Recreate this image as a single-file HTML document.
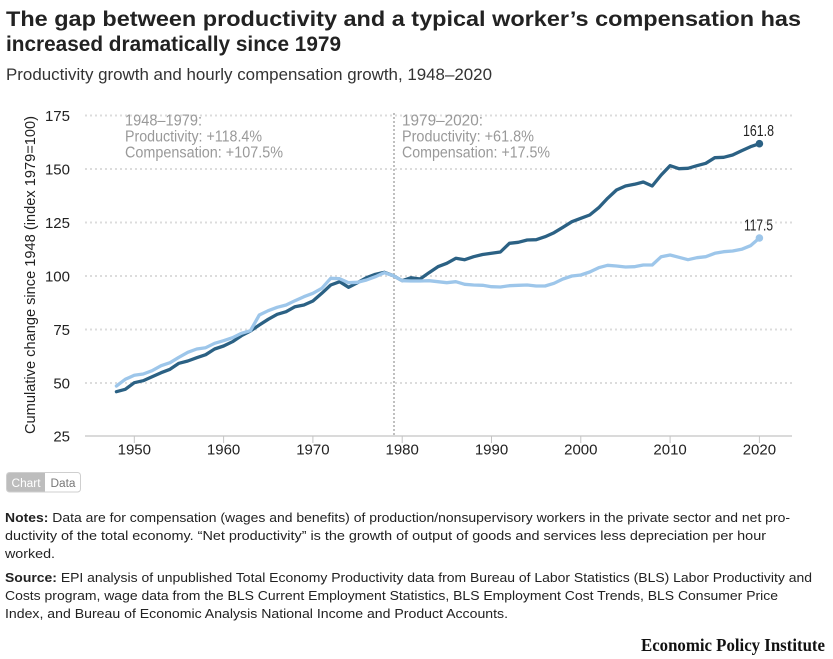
<!DOCTYPE html>
<html>
<head>
<meta charset="utf-8">
<style>
  html,body{margin:0;padding:0;background:#fff;}
  body{width:833px;height:659px;overflow:hidden;}
  svg{display:block;}
  text{font-family:"Liberation Sans", Arial, sans-serif;}
</style>
</head>
<body>
<svg width="833" height="659" viewBox="0 0 833 659" xmlns="http://www.w3.org/2000/svg">
  <!-- Title -->
  <text x="6" y="26" font-size="21" font-weight="bold" fill="#222" textLength="795" lengthAdjust="spacingAndGlyphs">The gap between productivity and a typical worker’s compensation has</text>
  <text x="6" y="51" font-size="21" font-weight="bold" fill="#222" textLength="335" lengthAdjust="spacingAndGlyphs">increased dramatically since 1979</text>
  <text x="6" y="80" font-size="16.5" fill="#333" textLength="486" lengthAdjust="spacingAndGlyphs">Productivity growth and hourly compensation growth, 1948–2020</text>

  <!-- Gridlines -->
  <g stroke="#dcdcdc" stroke-width="2" stroke-dasharray="2,3">
    <line x1="85" y1="115.5" x2="792" y2="115.5"/>
    <line x1="85" y1="169" x2="792" y2="169"/>
    <line x1="85" y1="222.5" x2="792" y2="222.5"/>
    <line x1="85" y1="276" x2="792" y2="276"/>
    <line x1="85" y1="329.5" x2="792" y2="329.5"/>
    <line x1="85" y1="383" x2="792" y2="383"/>
  </g>
  <!-- axis line -->
  <line x1="85" y1="436" x2="792" y2="436" stroke="#c4c4c4" stroke-width="1.2"/>
  <g stroke="#c4c4c4" stroke-width="1">
    <line x1="134.3" y1="436" x2="134.3" y2="443"/>
    <line x1="223.6" y1="436" x2="223.6" y2="443"/>
    <line x1="312.9" y1="436" x2="312.9" y2="443"/>
    <line x1="402.2" y1="436" x2="402.2" y2="443"/>
    <line x1="491.5" y1="436" x2="491.5" y2="443"/>
    <line x1="580.8" y1="436" x2="580.8" y2="443"/>
    <line x1="670.1" y1="436" x2="670.1" y2="443"/>
    <line x1="759.4" y1="436" x2="759.4" y2="443"/>
  </g>
  <!-- 1979 vertical -->
  <line x1="394" y1="113" x2="394" y2="436" stroke="#c0c0c0" stroke-width="2" stroke-dasharray="2,2"/>

  <!-- Y labels -->
  <g font-size="15" fill="#222" text-anchor="end">
    <text x="70" y="121">175</text>
    <text x="70" y="174.5">150</text>
    <text x="70" y="228">125</text>
    <text x="70" y="281.5">100</text>
    <text x="70" y="335">75</text>
    <text x="70" y="388.5">50</text>
    <text x="70" y="441.5">25</text>
  </g>
  <!-- X labels -->
  <g font-size="15" fill="#222" text-anchor="middle">
    <text x="134.3" y="454.5">1950</text>
    <text x="223.6" y="454.5">1960</text>
    <text x="312.9" y="454.5">1970</text>
    <text x="402.2" y="454.5">1980</text>
    <text x="491.5" y="454.5">1990</text>
    <text x="580.8" y="454.5">2000</text>
    <text x="670.1" y="454.5">2010</text>
    <text x="759.4" y="454.5">2020</text>
  </g>
  <!-- Y axis title -->
  <text transform="translate(35,275) rotate(-90)" font-size="15" fill="#222" text-anchor="middle" textLength="318" lengthAdjust="spacingAndGlyphs">Cumulative change since 1948 (index 1979=100)</text>

  <!-- Annotations -->
  <g font-size="15.5" fill="#999">
    <text x="125" y="125.5" textLength="77" lengthAdjust="spacingAndGlyphs">1948–1979:</text>
    <text x="125" y="141.5" textLength="137" lengthAdjust="spacingAndGlyphs">Productivity: +118.4%</text>
    <text x="125" y="157.5" textLength="158" lengthAdjust="spacingAndGlyphs">Compensation: +107.5%</text>
    <text x="402" y="125.5" textLength="81" lengthAdjust="spacingAndGlyphs">1979–2020:</text>
    <text x="402" y="141.5" textLength="132" lengthAdjust="spacingAndGlyphs">Productivity: +61.8%</text>
    <text x="402" y="157.5" textLength="148" lengthAdjust="spacingAndGlyphs">Compensation: +17.5%</text>
  </g>

  <!-- Productivity (dark) -->
  <polyline fill="none" stroke="#2b6184" stroke-width="3.3" stroke-linejoin="round" stroke-linecap="round" points="
116.4,391.7 125.3,389.3 134.3,382.7 143.2,380.7 152.1,376.7 161.1,372.7 170.0,369.3 178.9,363.3 187.8,361 196.8,357.7
205.7,354.7 214.6,349 223.6,346 232.5,341.7 241.4,335.7 250.4,331 259.3,325 268.2,319.3 277.2,314.3 286.1,311.7
295.0,306.7 303.9,305 312.9,301 321.8,293.3 330.7,285 339.7,281.7 348.6,287.3 357.5,282.7 366.5,277.7 375.4,274.3
384.3,272.3 393.3,275.7 402.2,280.7 411.1,277.7 420.1,279 429.0,272.7 437.9,266.7 446.8,263.3 455.8,258.3 464.7,259.7
473.6,256.7 482.6,254.5 491.5,253.3 500.4,252 509.4,243.3 518.3,242.3 527.2,240 536.2,239.7 545.1,236.7 554.0,232.7
562.9,227.3 571.9,221.7 580.8,218.3 589.7,215 598.7,207.7 607.6,198.3 616.5,190 625.5,186 634.4,184.3 643.3,182
652.2,186 661.2,175 670.1,165.7 679.0,168.7 688.0,168.3 696.9,165.7 705.8,163.3 714.8,157.7 723.7,157.3 732.6,155
741.6,150.7 750.5,146.7 759.4,143.7"/>
  <!-- Compensation (light) -->
  <polyline fill="none" stroke="#9dc6ea" stroke-width="3.3" stroke-linejoin="round" stroke-linecap="round" points="
116.4,386 125.3,379.3 134.3,375.3 143.2,374 152.1,370.7 161.1,365.7 170.0,362.7 178.9,357.3 187.8,352.3 196.8,349
205.7,347.7 214.6,343.3 223.6,340.7 232.5,337.7 241.4,333.3 250.4,330.7 259.3,315 268.2,310.7 277.2,307.3 286.1,305
295.0,300.7 303.9,296.7 312.9,293.3 321.8,288.3 330.7,278.3 339.7,278.7 348.6,282.7 357.5,282.3 366.5,280 375.4,276.7
384.3,272.7 393.3,275.7 402.2,280.7 411.1,281 420.1,281 429.0,280.7 437.9,281.7 446.8,282.7 455.8,281.7 464.7,284.3
473.6,285 482.6,285.3 491.5,286.7 500.4,287 509.4,285.7 518.3,285.3 527.2,285 536.2,286 545.1,286 554.0,283.3
562.9,279 571.9,276 580.8,275 589.7,272 598.7,267.7 607.6,265.3 616.5,266 625.5,267 634.4,266.7 643.3,265
652.2,265 661.2,256.7 670.1,255 679.0,257.3 688.0,259.7 696.9,257.7 705.8,256.7 714.8,253.3 723.7,251.7 732.6,251
741.6,249.3 750.5,245.7 759.4,238"/>
  <circle cx="759.4" cy="143.7" r="3.8" fill="#2b6184"/>
  <circle cx="759.4" cy="238" r="3.8" fill="#9dc6ea"/>
  <text x="758.5" y="136" font-size="16" fill="#222" text-anchor="middle" textLength="31" lengthAdjust="spacingAndGlyphs">161.8</text>
  <text x="758.5" y="230.5" font-size="16" fill="#222" text-anchor="middle" textLength="29" lengthAdjust="spacingAndGlyphs">117.5</text>

  <!-- Chart / Data toggle -->
  <rect x="6.5" y="472.5" width="74" height="19.5" rx="3" ry="3" fill="#fff" stroke="#cfcfcf" stroke-width="1"/>
  <path d="M9.5,473 H45 V491.5 H9.5 Q7,491.5 7,489 V475.5 Q7,473 9.5,473 Z" fill="#bdbdbd"/>
  <text x="26" y="487" font-size="11.5" fill="#fff" text-anchor="middle" textLength="29" lengthAdjust="spacingAndGlyphs">Chart</text>
  <text x="63" y="487" font-size="11.5" fill="#777" text-anchor="middle" textLength="25" lengthAdjust="spacingAndGlyphs">Data</text>

  <!-- Notes -->
  <g font-size="13" fill="#222">
    <text x="5" y="522" textLength="785" lengthAdjust="spacingAndGlyphs"><tspan font-weight="bold">Notes:</tspan> Data are for compensation (wages and benefits) of production/nonsupervisory workers in the private sector and net pro-</text>
    <text x="5" y="540" textLength="761" lengthAdjust="spacingAndGlyphs">ductivity of the total economy. “Net productivity” is the growth of output of goods and services less depreciation per hour</text>
    <text x="5" y="558" textLength="50" lengthAdjust="spacingAndGlyphs">worked.</text>
    <text x="5" y="582" textLength="807" lengthAdjust="spacingAndGlyphs"><tspan font-weight="bold">Source:</tspan> EPI analysis of unpublished Total Economy Productivity data from Bureau of Labor Statistics (BLS) Labor Productivity and</text>
    <text x="5" y="600" textLength="773" lengthAdjust="spacingAndGlyphs">Costs program, wage data from the BLS Current Employment Statistics, BLS Employment Cost Trends, BLS Consumer Price</text>
    <text x="5" y="618" textLength="503" lengthAdjust="spacingAndGlyphs">Index, and Bureau of Economic Analysis National Income and Product Accounts.</text>
  </g>

  <!-- Logo -->
  <text x="641" y="651" font-size="18" font-weight="bold" fill="#111" textLength="184" lengthAdjust="spacingAndGlyphs" style="font-family:'Liberation Serif',serif">Economic Policy Institute</text>
</svg>
</body>
</html>
